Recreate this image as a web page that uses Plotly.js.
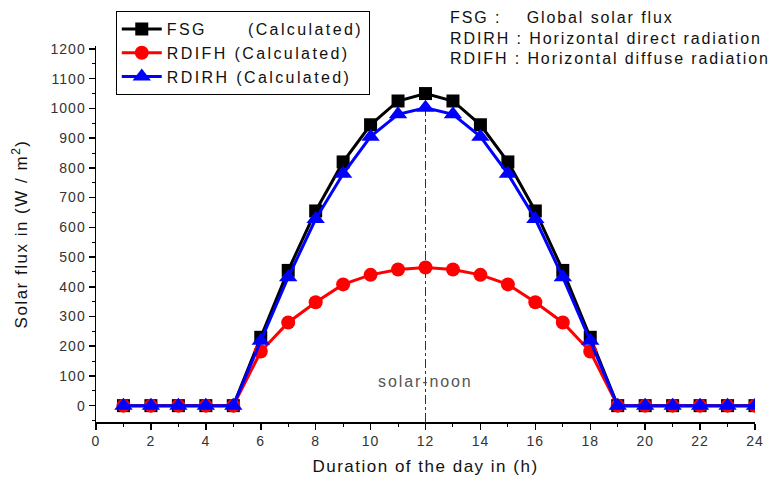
<!DOCTYPE html>
<html>
<head>
<meta charset="utf-8">
<script src="https://cdn.plot.ly/plotly-3.0.1.min.js"></script>
<style>
html,body{margin:0;padding:0;background:#fff;}
#chart{width:773px;height:481px;}
text{letter-spacing:1.5px;}
.xtick text,.ytick text{letter-spacing:1px;}
.legendtext{letter-spacing:2.4px;}
.annotation-text{letter-spacing:1.9px;}
</style>
</head>
<body>
<div id="chart"></div>
<script>
const hours = [1,2,3,4,5,6,7,8,9,10,11,12,13,14,15,16,17,18,19,20,21,22,23,24];
const fsg   = [0,0,0,0,0,230,455,655,820,945,1025,1050,1025,945,820,655,455,230,0,0,0,0,0,0];
const rdifh = [0,0,0,0,0,182,280,348,408,440,458,465,458,440,408,348,280,182,0,0,0,0,0,0];
const rdirh = [0,0,0,0,0,218,432,628,780,905,980,1002,980,905,780,628,432,218,0,0,0,0,0,0];
const seriesNames = ['FSG\u00a0\u00a0\u00a0\u00a0\u00a0\u00a0(Calculated)', 'RDIFH (Calculated)', 'RDIRH (Calculated)'];
const noonHour = 12;
const xTicks = [0,2,4,6,8,10,12,14,16,18,20,22,24];
const yTicks = [0,100,200,300,400,500,600,700,800,900,1000,1100,1200];

const font = 'Arial, "Liberation Sans", sans-serif';
const traces = [
  {x: hours, y: fsg, name: seriesNames[0], mode: 'lines+markers',
   line: {color: '#000000', width: 3}, marker: {symbol: 'square', size: 13, color: '#000000'}},
  {x: hours, y: rdifh, name: seriesNames[1], mode: 'lines+markers',
   line: {color: '#ff0000', width: 3}, marker: {symbol: 'circle', size: 14, color: '#ff0000'}},
  {x: hours, y: rdirh, name: seriesNames[2], mode: 'lines+markers',
   line: {color: '#0000ff', width: 3}, marker: {symbol: 'triangle-up', size: 16, color: '#0000ff'}}
];

const layout = {
  width: 773, height: 481,
  margin: {l: 96, r: 18, t: 45, b: 59},
  paper_bgcolor: '#ffffff', plot_bgcolor: '#ffffff',
  font: {family: font, size: 14, color: '#222'},
  showlegend: true,
  legend: {x: 0.03, y: 1.09, xanchor: 'left', yanchor: 'top',
    bordercolor: '#000', borderwidth: 1, bgcolor: '#fff',
    font: {family: font, size: 16, color: '#111'}, tracegroupgap: 0, itemwidth: 40},
  xaxis: {range: [0, 24], tickvals: xTicks, ticktext: xTicks.map(String),
    showgrid: false, zeroline: false, showline: true, linecolor: '#000', linewidth: 1.5,
    ticks: 'outside', ticklen: 6, tickwidth: 1.5, tickcolor: '#000',
    minor: {dtick: 1, ticks: 'outside', ticklen: 3, tickwidth: 1, tickcolor: '#000', showgrid: false},
    tickfont: {family: font, size: 14, color: '#333'},
    title: {text: 'Duration of the day in (h)', font: {family: font, size: 17, color: '#111'}, standoff: 12}},
  yaxis: {range: [-55, 1210], tickvals: yTicks, ticktext: yTicks.map(String),
    showgrid: false, zeroline: false, showline: true, linecolor: '#000', linewidth: 1.5,
    ticks: 'outside', ticklen: 6, tickwidth: 1.5, tickcolor: '#000',
    minor: {dtick: 50, ticks: 'outside', ticklen: 3, tickwidth: 1, tickcolor: '#000', showgrid: false},
    tickfont: {family: font, size: 14, color: '#333'},
    title: {text: 'Solar flux in (W / m<sup>2</sup>)', font: {family: font, size: 17, color: '#111'}, standoff: 18}},
  shapes: [{type: 'line', xref: 'x', yref: 'y', x0: noonHour, x1: noonHour, y0: -55, y1: 1050,
    line: {color: '#333', width: 1, dash: 'dashdot'}, layer: 'below'}],
  annotations: [
    {xref: 'x', yref: 'y', x: noonHour, y: 80, text: 'solar-noon', showarrow: false,
     font: {family: font, size: 16, color: '#555'}},
    {xref: 'paper', yref: 'paper', x: 0.534, y: 1.077, xanchor: 'left', yanchor: 'middle', align: 'left', showarrow: false,
     text: 'FSG :\u00a0\u00a0\u00a0\u00a0Global solar flux', font: {family: font, size: 16, color: '#111'}},
    {xref: 'paper', yref: 'paper', x: 0.534, y: 1.021, xanchor: 'left', yanchor: 'middle', align: 'left', showarrow: false,
     text: 'RDIRH : Horizontal direct radiation', font: {family: font, size: 16, color: '#111'}},
    {xref: 'paper', yref: 'paper', x: 0.534, y: 0.966, xanchor: 'left', yanchor: 'middle', align: 'left', showarrow: false,
     text: 'RDIFH : Horizontal diffuse radiation', font: {family: font, size: 16, color: '#111'}}
  ]
};
Plotly.newPlot('chart', traces, layout, {displayModeBar: false, staticPlot: true});
</script>
</body>
</html>
